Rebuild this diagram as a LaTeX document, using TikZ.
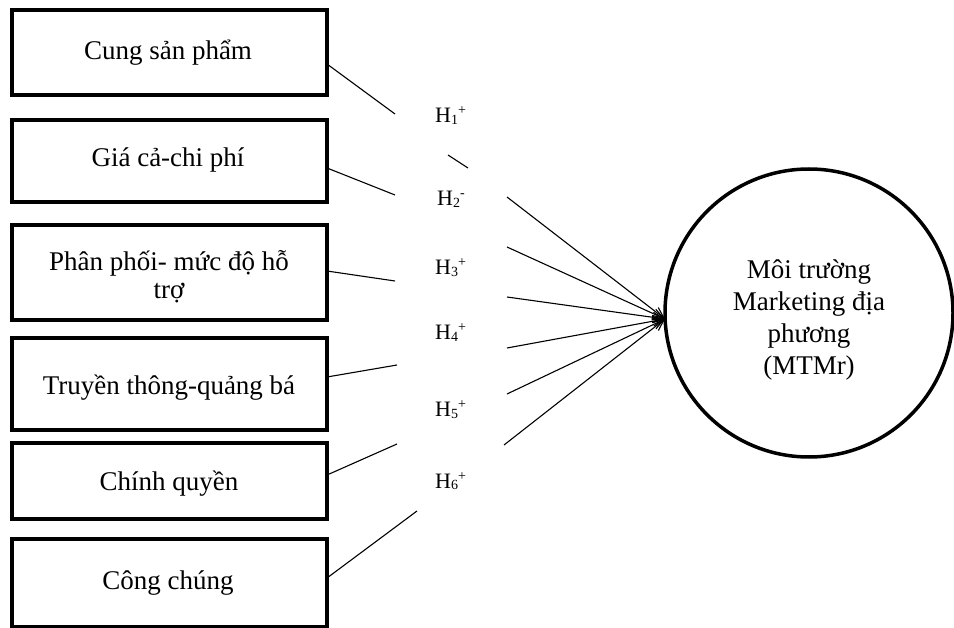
\documentclass[tikz,border=0pt]{standalone}
\usepackage{fontspec}
\setmainfont{Liberation Serif}
\usetikzlibrary{arrows.meta}
% hypothesis tag: H with index and sign
\newcommand{\hyptag}[2]{H\raisebox{-1.5pt}{\fontsize{14}{14}\selectfont #1}\raisebox{8pt}{\fontsize{14}{14}\selectfont #2}}
\begin{document}
\begin{tikzpicture}[x=1pt,y=-1pt,
  factor/.style={draw, line width=3.5pt, minimum width=315pt, inner sep=0pt},
  label text/.style={anchor=base, inner sep=0pt, align=center},
  target/.style={draw, circle, line width=3.5pt, minimum size=288pt, inner sep=0pt},
  hyp/.style={anchor=base west, inner sep=0pt, font=\fontsize{22}{24}\selectfont},
  link/.style={line width=1.1pt},
  arr/.style={line width=1.1pt, -{Straight Barb[length=11pt,width=10pt,line width=1.1pt]}}]
\useasboundingbox (0,0) rectangle (954,628);

% factor boxes
\node[factor, minimum height=85pt] (b1) at (169.5,52.5) {};
\node[factor, minimum height=82pt] (b2) at (169.5,161) {};
\node[factor, minimum height=95pt] (b3) at (169.5,272.5) {};
\node[factor, minimum height=92pt] (b4) at (169.5,384) {};
\node[factor, minimum height=76pt] (b5) at (169.5,481) {};
\node[factor, minimum height=88pt] (b6) at (169.5,583) {};

% box captions, placed by baseline
\begin{scope}[font=\fontsize{27}{28}\selectfont]
\node[label text] (t1) at (168,60) {Cung sản phẩm};
\node[label text] (t2) at (168,167) {Giá cả-chi phí};
\node[label text] (t3a) at (169,271) {Phân phối- mức độ hỗ};
\node[label text] (t3b) at (169,299) {trợ};
\node[label text] (t4) at (169,395) {Truyền thông-quảng bá};
\node[label text] (t5) at (169,490) {Chính quyền};
\node[label text] (t6) at (168,589) {Công chúng};
\end{scope}

% outcome
\node[target] (m) at (809,313) {};
\node[font=\fontsize{27}{32.3}\selectfont, align=center, inner sep=0pt]
  (mt) at (809,320) {Môi trường\\Marketing địa\\phương\\(MTMr)};

% hypothesis labels
\node[hyp] (h1) at (435,123) {\hyptag{1}{+}};
\node[hyp] (h2) at (437,206) {\hyptag{2}{-}};
\node[hyp] (h3) at (435,275) {\hyptag{3}{+}};
\node[hyp] (h4) at (435,340) {\hyptag{4}{+}};
\node[hyp] (h5) at (435,417) {\hyptag{5}{+}};
\node[hyp] (h6) at (435,488) {\hyptag{6}{+}};

% line ends
\coordinate (s1) at (327,64);   \coordinate (e1) at (395,114);
\coordinate (p1) at (448,155);  \coordinate (q1) at (468,168);
\coordinate (s2) at (327,168);  \coordinate (e2) at (395,195);
\coordinate (s3) at (327,271);  \coordinate (e3) at (395,281);
\coordinate (s4) at (327,377);  \coordinate (e4) at (397,365);
\coordinate (s5) at (327,475);  \coordinate (e5) at (397,444);
\coordinate (s6) at (327,578);  \coordinate (e6) at (417,511);
\coordinate (a1) at (507,197);
\coordinate (a2) at (507,247);
\coordinate (a3) at (507,297);
\coordinate (a4) at (507,348);
\coordinate (a5) at (507,394);
\coordinate (a6) at (504,445);
\coordinate (tip) at (665,319);

% segments leaving the boxes
\draw[link] (s1) -- (e1);
\draw[link] (p1) -- (q1);
\draw[link] (s2) -- (e2);
\draw[link] (s3) -- (e3);
\draw[link] (s4) -- (e4);
\draw[link] (s5) -- (e5);
\draw[link] (s6) -- (e6);

% arrows into the circle
\foreach \i in {1,...,6} \draw[arr] (a\i) -- (tip);
\end{tikzpicture}
\end{document}
